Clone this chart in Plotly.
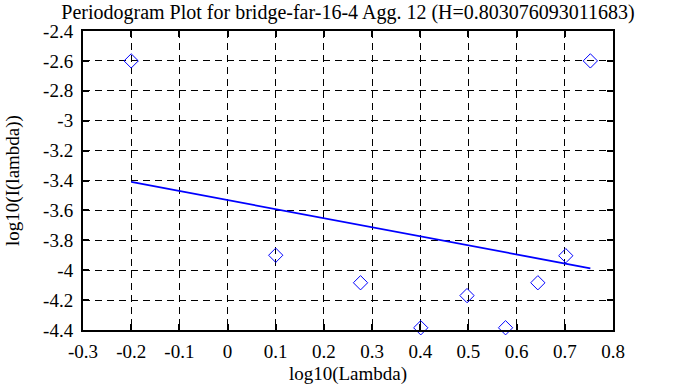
import plotly.graph_objects as go

log_lambda = [-0.2, 0.1, 0.276, 0.401, 0.497, 0.577, 0.644, 0.702, 0.753]
log_I = [-2.6, -3.9, -4.084, -4.385, -4.17, -4.385, -4.084, -3.903, -2.6]
H = 0.803076093011683
slope = 1 - 2 * H
intercept = -3.531
fit_x = [log_lambda[0], log_lambda[-1]]
fit_y = [intercept + slope * v for v in fit_x]

x_ticks = [-0.3, -0.2, -0.1, 0, 0.1, 0.2, 0.3, 0.4, 0.5, 0.6, 0.7, 0.8]
y_ticks = [-4.4, -4.2, -4, -3.8, -3.6, -3.4, -3.2, -3, -2.8, -2.6, -2.4]

FAMILY = "'Liberation Serif', 'Times New Roman', serif"
tick_font = dict(family=FAMILY, size=19, color="black")
label_font = dict(family=FAMILY, size=19, color="black")
title_font = dict(family=FAMILY, size=20, color="black")

fig = go.Figure()
fig.add_trace(go.Scatter(x=fit_x, y=fit_y, mode="lines",
                         line=dict(color="#0000ff", width=1.8), showlegend=False))
fig.add_trace(go.Scatter(x=log_lambda, y=log_I, mode="markers",
                         marker=dict(symbol="diamond-open", size=11, color="#0000ff",
                                     line=dict(width=1, color="#0000ff")),
                         showlegend=False, cliponaxis=False))

axis_common = dict(showline=True, linecolor="black", linewidth=2, mirror="ticks",
                   ticks="inside", ticklen=6, tickwidth=2, tickcolor="black",
                   showgrid=True, gridcolor="black", gridwidth=1, griddash="7px,5px",
                   zeroline=False, automargin=False, tickfont=tick_font)

fig.update_layout(
    template="none",
    width=683, height=387,
    margin=dict(l=83, r=70, t=31, b=57),
    paper_bgcolor="white", plot_bgcolor="white",
    font=label_font,
    title=dict(text="Periodogram Plot for bridge-far-16-4 Agg. 12 (H=0.803076093011683)",
               x=0.5, xanchor="center", xref="paper",
               y=1 - 12 / 387, yanchor="middle", yref="container",
               automargin=False, font=title_font),
    xaxis=dict(range=[-0.3, 0.8], tickvals=x_ticks, ticktext=[f"{v:g}" for v in x_ticks],
               ticklabelstandoff=3,
               title=dict(text="log10(Lambda)", standoff=6, font=label_font), **axis_common),
    yaxis=dict(range=[-4.4, -2.4], tickvals=y_ticks, ticktext=[f"{v:g}" for v in y_ticks],
               ticklabelstandoff=4,
               title=dict(text="log10(I(lambda))", standoff=18, font=label_font), **axis_common),
)

fig.write_html("out.html", config={"displayModeBar": False, "staticPlot": True},
               post_script="document.body.style.margin='0';document.body.style.padding='0';")
